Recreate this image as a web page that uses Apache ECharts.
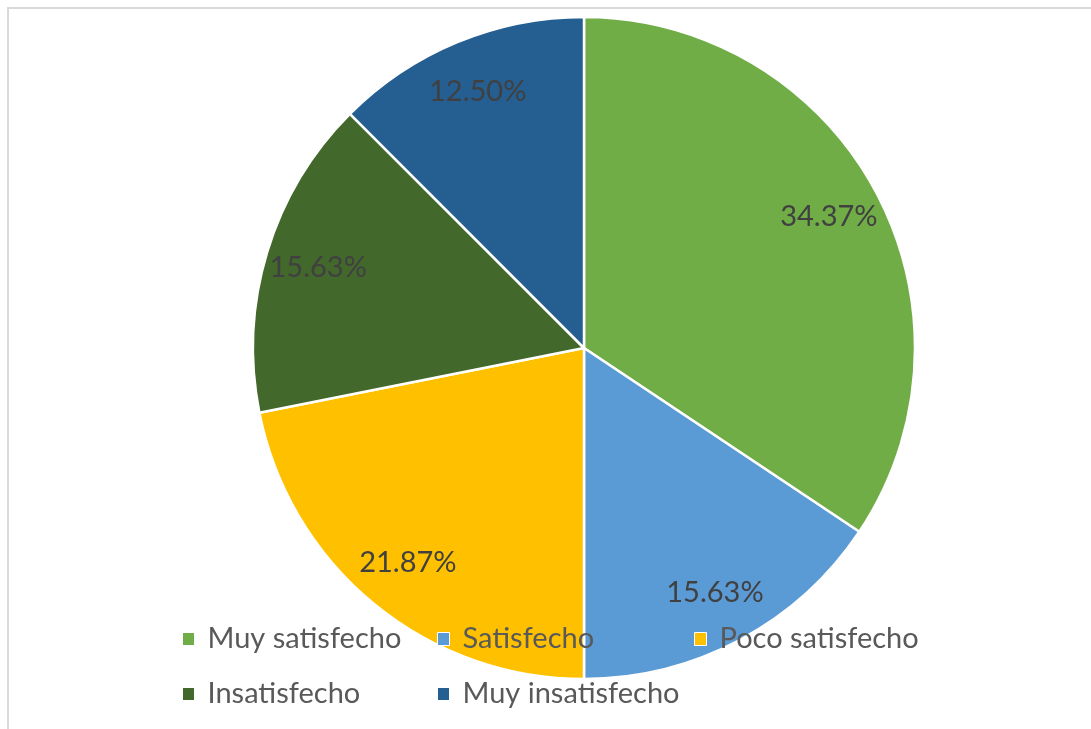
<!DOCTYPE html>
<html>
<head>
<meta charset="utf-8">
<script src="https://cdn.jsdelivr.net/npm/echarts@6/dist/echarts.min.js"></script>
<style>
  html, body { margin: 0; padding: 0; background: #ffffff; }
  #chart { width: 1091px; height: 729px; }
</style>
</head>
<body>
<div id="chart"></div>
<script>
// Nivel de satisfacción (porcentaje de respuestas)
const categories = ['Muy satisfecho', 'Satisfecho', 'Poco satisfecho', 'Insatisfecho', 'Muy insatisfecho'];
const percentages = [34.37, 15.63, 21.87, 15.63, 12.50];
const sliceColors = ['#70AD47', '#5B9BD5', '#FFC000', '#43682B', '#255E91'];

const FONT = 'Lato, "Noto Sans", sans-serif';
const CENTER = [584, 348];
const RADIUS = 331;

const pieData = categories.map((name, i) => ({
  name: name,
  value: percentages[i],
  itemStyle: { color: sliceColors[i] }
}));

// Legend laid out in a 3-column grid, one component per entry
const legendCols = [182, 437, 694];
const legendRows = [639, 694];
const legends = categories.map((name, i) => ({
  data: [name],
  left: legendCols[i % 3],
  top: legendRows[Math.floor(i / 3)] - 16,
  padding: 0,
  itemWidth: 12,
  itemHeight: 13,
  icon: 'rect',
  selectedMode: false,
  itemStyle: { borderColor: '#ffffff', borderWidth: 1 },
  textStyle: {
    fontFamily: FONT,
    fontSize: 29,
    lineHeight: 32,
    color: '#595959',
    padding: [0, 0, 0, 8]
  }
}));

const chart = echarts.init(document.getElementById('chart'), null, { renderer: 'canvas' });
chart.setOption({
  backgroundColor: '#ffffff',
  animation: false,
  graphic: [{
    type: 'rect',
    shape: { x: 8, y: 8, width: 1200, height: 900 },
    style: { fill: 'none', stroke: '#d9d9d9', lineWidth: 2 },
    silent: true
  }],
  legend: legends,
  series: [
    {
      type: 'pie',
      center: CENTER,
      radius: RADIUS,
      startAngle: 90,
      clockwise: true,
      label: { show: false },
      labelLine: { show: false },
      emphasis: { disabled: true },
      itemStyle: { borderColor: '#ffffff', borderWidth: 2.5 },
      data: pieData
    },
    {
      // transparent ring that carries the value labels
      type: 'pie',
      center: CENTER,
      radius: [RADIUS * 0.66, RADIUS],
      startAngle: 90,
      clockwise: true,
      silent: true,
      emphasis: { disabled: true },
      itemStyle: { color: 'rgba(0,0,0,0)', borderWidth: 0 },
      labelLine: { show: false },
      label: {
        show: true,
        position: 'inside',
        fontFamily: FONT,
        fontSize: 29,
        color: '#404040',
        formatter: p => p.value.toFixed(2) + '%'
      },
      data: categories.map((name, i) => ({ name: name, value: percentages[i] }))
    }
  ]
});
</script>
</body>
</html>
